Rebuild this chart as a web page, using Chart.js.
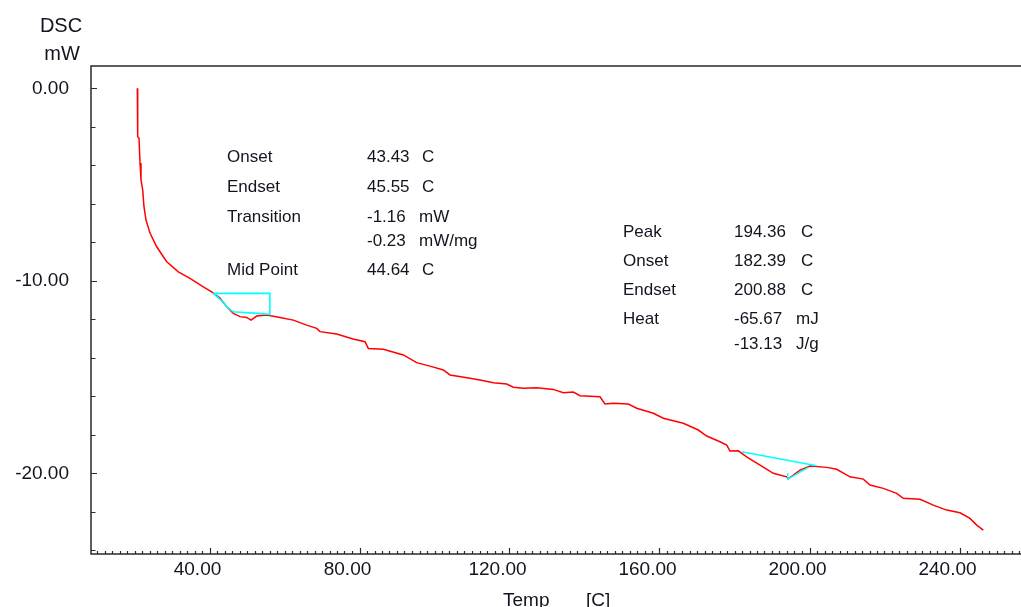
<!DOCTYPE html>
<html>
<head>
<meta charset="utf-8">
<title>DSC</title>
<script src="https://cdn.jsdelivr.net/npm/chart.js"></script>
<style>
    html, body { margin: 0; padding: 0; background: #fff; overflow: hidden; }
    #wrap { width: 1040px; height: 607px; }
</style>
</head>
<body>
<div id="wrap"><canvas id="dscChart" width="1040" height="607"></canvas></div>
<script>
// DSC curve (Temp in C, DSC in mW)
const temps = [20.75, 20.85, 21.2, 21.47, 21.73, 22.19, 22.53, 23.07, 24.13, 25.92,
    28.59, 31.68, 34.8, 38.35, 40.59, 42.8, 44.59, 46.35, 48.13, 49.92,
    51.07, 52.59, 55.25, 58.8, 62.35, 65.92, 68.59, 69.47, 73.92, 78.27,
    81.47, 82.35, 86.35, 91.68, 95.25, 98.8, 102.35, 104.13, 109.47, 112.13,
    115.68, 119.25, 121.01, 123.68, 127.25, 131.68, 134.35, 137.01, 138.8, 144.13,
    145.47, 147.68, 151.68, 153.92, 158.35, 161.01, 166.35, 170.35, 172.59, 176.13,
    177.92, 178.8, 181.01, 183.25, 186.8, 190.35, 193.92, 194.35, 197.47, 200.13,
    204.59, 207.25, 210.8, 214.35, 216.13, 219.68, 223.25, 225.01, 229.47, 233.01,
    236.59, 240.13, 242.8, 244.59, 246.35];
const dsc = [0.0, -2.51, -2.58, -3.88, -4.76, -5.28, -6.15, -6.84, -7.52, -8.23,
    -9.01, -9.53, -9.87, -10.31, -10.57, -10.89, -11.35, -11.69, -11.86, -11.9,
    -12.04, -11.83, -11.78, -11.9, -12.04, -12.3, -12.47, -12.64, -12.76, -13.02,
    -13.16, -13.51, -13.56, -13.85, -14.25, -14.43, -14.63, -14.89, -15.06, -15.15,
    -15.29, -15.36, -15.53, -15.58, -15.55, -15.64, -15.81, -15.78, -15.97, -16.02,
    -16.4, -16.36, -16.4, -16.62, -16.88, -17.14, -17.4, -17.75, -18.06, -18.36,
    -18.53, -18.84, -18.83, -19.14, -19.57, -20.0, -20.18, -20.28, -19.83, -19.62,
    -19.69, -19.79, -20.18, -20.3, -20.61, -20.78, -21.04, -21.3, -21.35, -21.65,
    -21.91, -22.05, -22.34, -22.69, -22.95];

// analysis construction lines (cyan)
const glassX = [41.0, 56.1, 56.1, 52.6, 46.3, 44.6, 43.6, 41.0];
const glassY = [-10.65, -10.65, -11.74, -11.69, -11.61, -11.35, -11.09, -10.65];
const meltBaseX = [181.9, 201.9];
const meltBaseY = [-18.88, -19.61];
const peakX = [194.2, 194.2, 199.7];
const peakY = [-19.98, -20.3, -19.69];

// axis ranges and tick labels
const xMin = 8.4, xMax = 258.8;
const yMin = -24.19, yMax = 1.16;
const xTicks = [40, 80, 120, 160, 200, 240];
const yTicks = [-20, -10, 0];
const minorStep = 2;

// result texts
const glassLabels = ['Onset', 'Endset', 'Transition', '', 'Mid Point'];
const glassValues = ['43.43', '45.55', '-1.16', '-0.23', '44.64'];
const glassUnits = ['C', 'C', 'mW', 'mW/mg', 'C'];
const meltLabels = ['Peak', 'Onset', 'Endset', 'Heat', ''];
const meltValues = ['194.36', '182.39', '200.88', '-65.67', '-13.13'];
const meltUnits = ['C', 'C', 'C', 'mJ', 'J/g'];

const FONT = '"Liberation Sans", Arial, sans-serif';
const TEXT = '#141420';

function pts(xs, ys) {
    return xs.map((x, i) => ({ x: x, y: ys[i] }));
}

function cyan(xs, ys, w) {
    return {
        data: pts(xs, ys),
        borderColor: '#00ffff',
        borderWidth: w,
        pointRadius: 0,
        tension: 0,
        order: 0
    };
}

// frame, small ticks and all the free texts
const decorPlugin = {
    id: 'decor',
    afterDraw(chart) {
        const ctx = chart.ctx;
        const a = chart.chartArea;
        const xs = chart.scales.x;
        const ys = chart.scales.y;
        ctx.save();
        ctx.strokeStyle = '#2a2a2a';
        ctx.lineWidth = 1.5;
        ctx.strokeRect(a.left, a.top, a.right - a.left, a.bottom - a.top);

        ctx.lineWidth = 1.2;
        ctx.beginPath();
        for (let v = 10; v <= xMax; v += minorStep) {
            const px = Math.round(xs.getPixelForValue(v)) + 0.5;
            const len = xTicks.includes(v) ? 6 : 3;
            ctx.moveTo(px, a.bottom);
            ctx.lineTo(px, a.bottom - len);
        }
        for (let v = -24; v <= 0; v += minorStep) {
            const py = Math.round(ys.getPixelForValue(v)) + 0.5;
            const len = yTicks.includes(v) ? 6 : 4.5;
            ctx.moveTo(a.left, py);
            ctx.lineTo(a.left + len, py);
        }
        ctx.stroke();

        ctx.fillStyle = TEXT;
        ctx.font = '20px ' + FONT;
        ctx.textAlign = 'center';
        ctx.fillText('DSC', 61, 32);
        ctx.fillText('mW', 62, 60);

        ctx.textAlign = 'left';
        ctx.font = '19px ' + FONT;
        ctx.fillText('Temp', 503, 606);
        ctx.fillText('[C]', 586, 606);

        ctx.font = '17px ' + FONT;
        const gRows = [162, 192, 222, 246, 275];
        glassLabels.forEach((t, i) => {
            ctx.fillText(t, 227, gRows[i]);
            ctx.fillText(glassValues[i], 367, gRows[i]);
            ctx.fillText(glassUnits[i], glassUnits[i] === 'C' ? 422 : 419, gRows[i]);
        });
        const mRows = [237, 266, 295, 324, 349];
        meltLabels.forEach((t, i) => {
            ctx.fillText(t, 623, mRows[i]);
            ctx.fillText(meltValues[i], 734, mRows[i]);
            ctx.fillText(meltUnits[i], meltUnits[i] === 'C' ? 801 : 796, mRows[i]);
        });
        ctx.restore();
    }
};

const ctx = document.getElementById('dscChart').getContext('2d');
const dscChart = new Chart(ctx, {
    type: 'line',
    data: {
        datasets: [
            cyan(glassX, glassY, 1.6),
            cyan(meltBaseX, meltBaseY, 1.6),
            cyan(peakX, peakY, 1.2),
            {
                data: pts(temps, dsc),
                borderColor: '#ff0000',
                borderWidth: 1.5,
                pointRadius: 0,
                tension: 0,
                order: 1
            }
        ]
    },
    options: {
        responsive: false,
        animation: false,
        layout: { padding: { top: 66, right: 10, left: 0, bottom: 0 } },
        plugins: {
            legend: { display: false },
            tooltip: { enabled: false }
        },
        scales: {
            x: {
                type: 'linear',
                min: xMin,
                max: xMax,
                grid: { display: false, drawTicks: false },
                border: { display: false },
                afterFit(scale) { scale.height = 53; },
                afterBuildTicks(scale) { scale.ticks = xTicks.map(v => ({ value: v })); },
                ticks: {
                    autoSkip: false,
                    maxRotation: 0,
                    padding: 4,
                    labelOffset: -12,
                    color: TEXT,
                    font: { family: FONT, size: 19 },
                    callback: (v) => v.toFixed(2)
                }
            },
            y: {
                type: 'linear',
                min: yMin,
                max: yMax,
                grid: { display: false, drawTicks: false },
                border: { display: false },
                afterFit(scale) { scale.width = 91; },
                afterBuildTicks(scale) { scale.ticks = yTicks.map(v => ({ value: v })); },
                ticks: {
                    autoSkip: false,
                    padding: 22,
                    color: TEXT,
                    font: { family: FONT, size: 19 },
                    callback: (v) => v.toFixed(2)
                }
            }
        }
    },
    plugins: [decorPlugin]
});
</script>
</body>
</html>
